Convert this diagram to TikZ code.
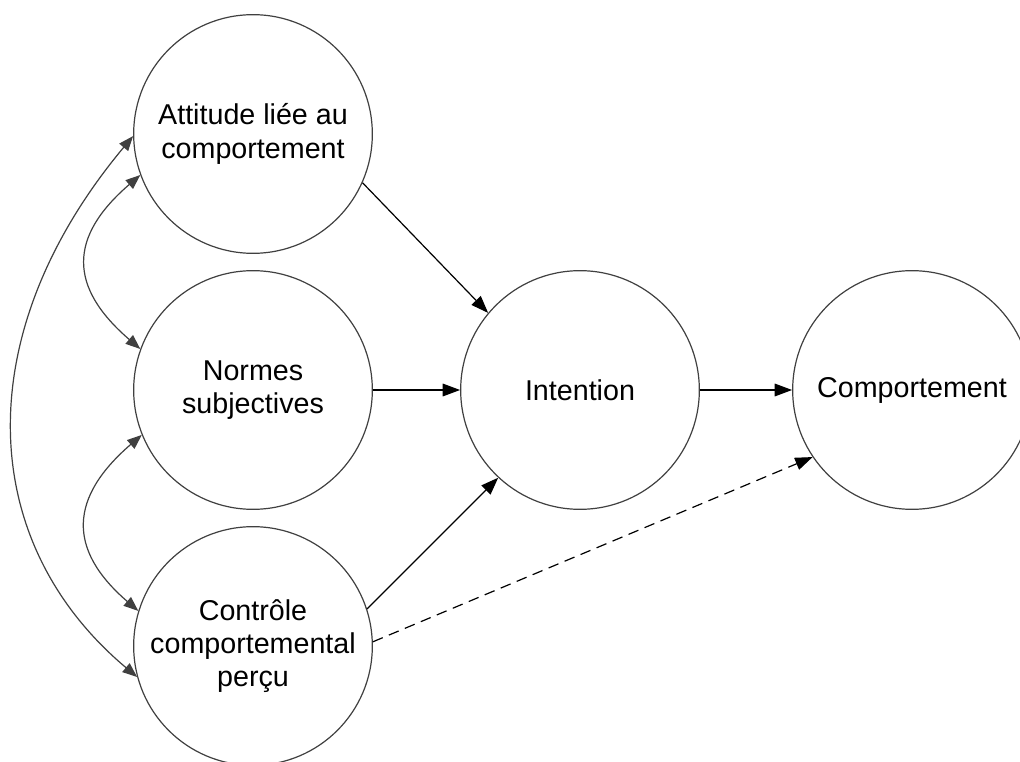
\documentclass[tikz,border=0pt]{standalone}
\usepackage{fontspec}
\setmainfont{Liberation Sans}
\usetikzlibrary{arrows.meta}
\definecolor{edgegray}{RGB}{64,64,64}

\begin{document}
\begin{tikzpicture}[x=0.75pt, y=-0.75pt,
  concept/.style={draw=edgegray, circle, minimum size=179pt, inner sep=0pt, align=center, font=\fontsize{21.5}{25}\selectfont, line width=0.9pt},
  flow/.style={-{Triangle[length=13pt,width=9.5pt]}, line width=0.9pt},
  link/.style={{Triangle[length=11pt,width=8.5pt]}-{Triangle[length=11pt,width=8.5pt]}, draw=edgegray, line width=0.9pt}]
  \useasboundingbox (0,0) rectangle (1020,762);

  \node[concept] (attitude) at (253,134) {Attitude liée au\\comportement};
  \node[concept] (normes) at (253,390) {Normes\\subjectives};
  \node[concept] (controle) at (253,646) {Contrôle\\comportemental\\perçu};
  \node[concept] (intention) at (580,390) {Intention};
  \node[concept] (comportement) at (912,390) {Comportement};

  \draw[flow] (attitude.-24) -- (intention.140);
  \draw[flow] (normes.east) -- (intention.west);
  \draw[flow] (controle.18) -- (intention.227);
  \draw[flow] (intention.east) -- (comportement.west);
  \draw[flow, dash pattern=on 8pt off 5pt] (controle.2) -- (comportement.214);

  \draw[link] (attitude.200) .. controls +(-72,62) and +(-72,-62) .. (normes.160);
  \draw[link] (normes.202) .. controls +(-72,62) and +(-72,-62) .. (controle.163);
  \draw[link] (attitude.181) .. controls +(-163,195) and +(-163,-137) .. (controle.195);
\end{tikzpicture}
\end{document}
